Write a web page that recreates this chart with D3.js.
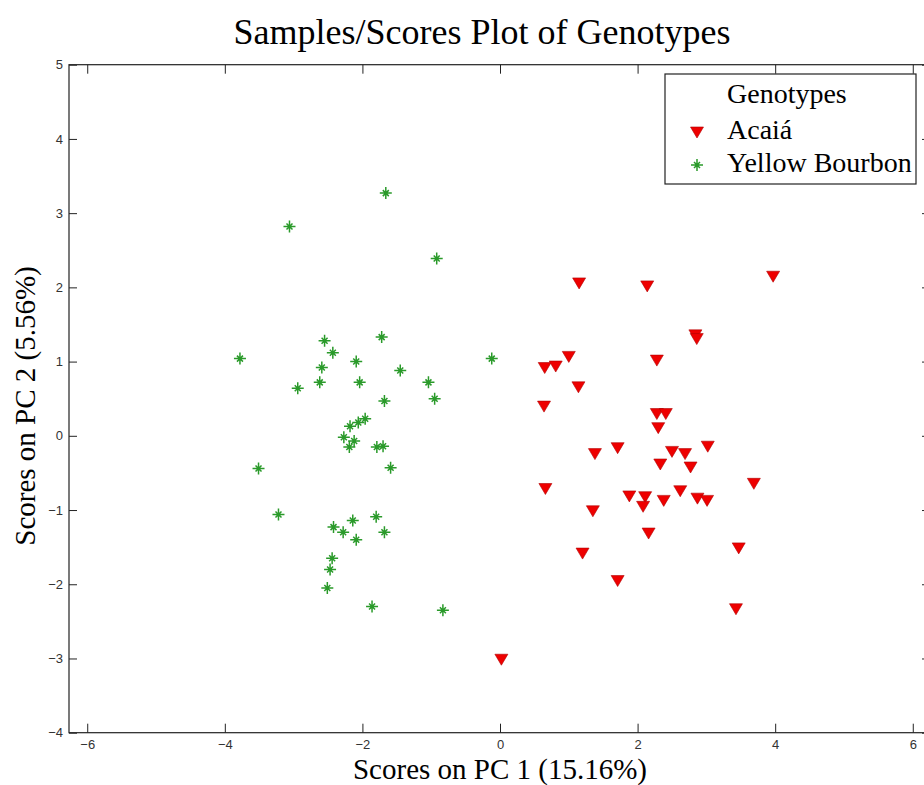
<!DOCTYPE html>
<html>
<head>
<meta charset="utf-8">
<script src="https://cdn.jsdelivr.net/npm/d3@7"></script>
<style>
  body { margin: 0; background: #fff; }
  svg { display: block; }
</style>
</head>
<body>
<div class="chart"></div>
<script>
// PCA scores, Yellow Bourbon samples (PC1, PC2)
var bourbonPC1 = [-1.66, -3.06, -0.92, -2.55, -1.72, -3.78, -2.43, -2.09, -2.59, -1.45,
                  -0.12, -2.94, -2.62, -2.04, -1.04, -0.95, -1.68, -1.96, -2.06, -2.18,
                  -2.27, -2.12, -2.19, -1.79, -1.70, -1.59, -3.51, -3.22, -1.80, -2.14,
                  -2.42, -2.28, -1.68, -2.09, -2.44, -2.47, -2.51, -1.86, -0.83];
var bourbonPC2 = [3.27, 2.82, 2.39, 1.28, 1.33, 1.04, 1.12, 1.00, 0.92, 0.88,
                  1.04, 0.64, 0.72, 0.72, 0.72, 0.50, 0.47, 0.23, 0.18, 0.13,
                  -0.02, -0.07, -0.15, -0.15, -0.14, -0.43, -0.44, -1.06, -1.09, -1.14,
                  -1.23, -1.30, -1.30, -1.40, -1.65, -1.80, -2.05, -2.30, -2.35];

// PCA scores, Acaiá samples (PC1, PC2)
var acaiaPC1 = [1.15, 2.14, 3.97, 2.84, 2.86, 1.00, 0.65, 0.81, 2.28, 1.14,
                0.64, 2.28, 2.41, 2.30, 1.38, 1.71, 2.50, 2.69, 3.02, 2.33,
                2.77, 3.69, 0.66, 2.62, 1.88, 2.11, 2.38, 2.87, 3.01, 2.08,
                1.35, 2.16, 3.47, 1.20, 1.71, 3.43, 0.02];
var acaiaPC2 = [2.06, 2.02, 2.15, 1.36, 1.31, 1.07, 0.92, 0.94, 1.02, 0.66,
                0.40, 0.30, 0.30, 0.11, -0.24, -0.16, -0.21, -0.24, -0.14, -0.38,
                -0.42, -0.64, -0.71, -0.74, -0.81, -0.82, -0.87, -0.84, -0.87, -0.95,
                -1.01, -1.31, -1.51, -1.58, -1.95, -2.33, -3.01];

var xTicks = [-6, -4, -2, 0, 2, 4, 6];
var yTicks = [-4, -3, -2, -1, 0, 1, 2, 3, 4, 5];
var legendItems = ["Acaiá", "Yellow Bourbon"];

var width = 924;
var height = 785;
var plot = { left: 69, right: 931, top: 64.7, bottom: 732.7 };

var svg = d3.select(".chart")
  .append("svg")
  .attr("width", width)
  .attr("height", height);

var x = d3.scaleLinear().domain([-6.265, 6.265]).range([plot.left, plot.right]);
var y = d3.scaleLinear().domain([-4, 5]).range([plot.bottom, plot.top]);

var serif = "'Liberation Serif', 'Times New Roman', serif";
var tickFont = "'Liberation Sans', Arial, sans-serif";

// judul
svg.append("text")
  .attr("x", 482)
  .attr("y", 44)
  .attr("text-anchor", "middle")
  .style("font-family", serif)
  .style("font-size", "36px")
  .style("fill", "#000")
  .text("Samples/Scores Plot of Genotypes");

// sumbu dengan tick ke dalam di keempat sisi
svg.append("g")
  .attr("transform", "translate(0," + plot.bottom + ")")
  .call(d3.axisBottom(x).tickValues(xTicks).tickSizeInner(-9).tickSizeOuter(0).tickPadding(7))
  .call(function(g) {
    g.select(".domain").remove();
    g.selectAll("line").attr("stroke", "#222");
    g.selectAll("text").style("font-family", tickFont).style("font-size", "13px").style("fill", "#333");
  });

svg.append("g")
  .attr("transform", "translate(0," + plot.top + ")")
  .call(d3.axisTop(x).tickValues(xTicks).tickSizeInner(-9).tickSizeOuter(0).tickFormat(""))
  .call(function(g) {
    g.select(".domain").remove();
    g.selectAll("line").attr("stroke", "#222");
  });

svg.append("g")
  .attr("transform", "translate(" + plot.left + ",0)")
  .call(d3.axisLeft(y).tickValues(yTicks).tickSizeInner(-8).tickSizeOuter(0).tickPadding(6))
  .call(function(g) {
    g.select(".domain").remove();
    g.selectAll("line").attr("stroke", "#222");
    g.selectAll("text").style("font-family", tickFont).style("font-size", "13px").style("fill", "#333");
  });

svg.append("g")
  .attr("transform", "translate(" + plot.right + ",0)")
  .call(d3.axisRight(y).tickValues(yTicks).tickSizeInner(-9).tickSizeOuter(0).tickFormat(""))
  .call(function(g) {
    g.select(".domain").remove();
    g.selectAll("line").attr("stroke", "#222");
  });

// kotak plot
svg.append("rect")
  .attr("x", plot.left)
  .attr("y", plot.top)
  .attr("width", plot.right - plot.left)
  .attr("height", plot.bottom - plot.top)
  .attr("fill", "none")
  .attr("stroke", "#222")
  .attr("stroke-width", 1.2);

// label sumbu
svg.append("text")
  .attr("x", 500)
  .attr("y", 779)
  .attr("text-anchor", "middle")
  .style("font-family", serif)
  .style("font-size", "29px")
  .text("Scores on PC 1 (15.16%)");

svg.append("text")
  .attr("transform", "translate(35,406) rotate(-90)")
  .attr("text-anchor", "middle")
  .style("font-family", serif)
  .style("font-size", "29px")
  .text("Scores on PC 2 (5.56%)");

// penanda
var green = "#2a9a2a";
var red = "#ee0000";

function star(g) {
  g.append("path")
    .attr("d", "M0,-6V6M-6,0H6M-3,-3L3,3M-3,3L3,-3")
    .attr("stroke", green)
    .attr("stroke-width", 1.5)
    .attr("fill", "none");
}
function tri(g) {
  g.append("path")
    .attr("d", "M-6.5,-5H6.5L0,6Z")
    .attr("fill", red)
    .attr("stroke", "#b00000")
    .attr("stroke-width", 0.6);
}

var bourbon = bourbonPC1.map(function(v, i) { return { pc1: v, pc2: bourbonPC2[i] }; });
var acaia = acaiaPC1.map(function(v, i) { return { pc1: v, pc2: acaiaPC2[i] }; });

svg.selectAll(".bourbon")
  .data(bourbon)
  .enter().append("g")
  .attr("class", "bourbon")
  .attr("transform", function(d) { return "translate(" + x(d.pc1) + "," + y(d.pc2) + ")"; })
  .each(function() { star(d3.select(this)); });

svg.selectAll(".acaia")
  .data(acaia)
  .enter().append("g")
  .attr("class", "acaia")
  .attr("transform", function(d) { return "translate(" + x(d.pc1) + "," + y(d.pc2) + ")"; })
  .each(function() { tri(d3.select(this)); });

// legenda
var legend = svg.append("g");
legend.append("rect")
  .attr("x", 665)
  .attr("y", 74)
  .attr("width", 251)
  .attr("height", 110)
  .attr("fill", "#fff")
  .attr("stroke", "#222")
  .attr("stroke-width", 1.2);

legend.append("text")
  .attr("x", 727)
  .attr("y", 103)
  .style("font-family", serif)
  .style("font-size", "28px")
  .text("Genotypes");

legendItems.forEach(function(name, i) {
  var cy = 132 + i * 33;
  var m = legend.append("g").attr("transform", "translate(697," + cy + ")");
  if (i === 0) tri(m); else star(m);
  legend.append("text")
    .attr("x", 727)
    .attr("y", cy + 7)
    .style("font-family", serif)
    .style("font-size", "28px")
    .text(name);
});
</script>
</body>
</html>
